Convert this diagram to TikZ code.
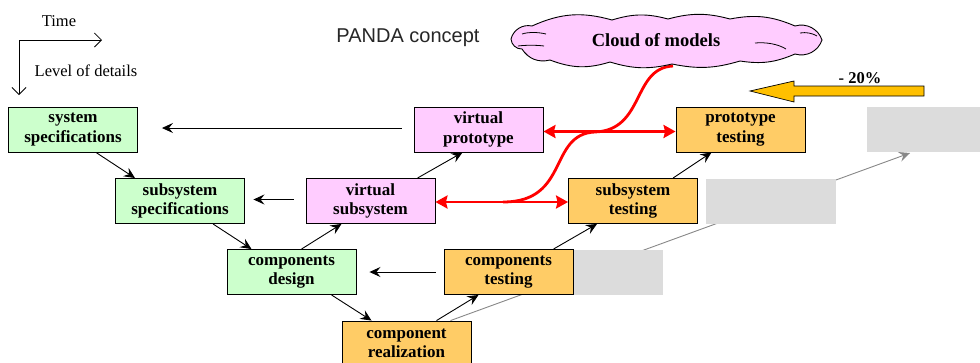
\documentclass[tikz,border=0pt]{standalone}
\usepackage{fontspec}
\setmainfont{Liberation Serif}
\newfontfamily\arialfont{Liberation Sans}
\usetikzlibrary{arrows.meta,calc}
\definecolor{boxgreen}{HTML}{CCFFCC}
\definecolor{boxpink}{HTML}{FFCCFF}
\definecolor{boxorange}{HTML}{FFCC66}
\definecolor{boxgrey}{HTML}{DCDCDC}
\definecolor{arroworange}{HTML}{FFC000}
\definecolor{linegrey}{HTML}{888888}
\tikzset{
  vbox/.style={draw=black, line width=0.9pt, minimum width=129pt, minimum height=45pt,
    align=center, inner sep=0pt, font=\fontsize{17}{19.5}\selectfont\bfseries},
  greenbox/.style={vbox, fill=boxgreen},
  pinkbox/.style={vbox, fill=boxpink},
  orangebox/.style={vbox, fill=boxorange},
  greybox/.style={fill=boxgrey, draw=none, minimum height=45pt, inner sep=0pt},
  flow/.style={line width=0.9pt, -{Stealth[length=11pt,width=10pt,inset=4pt]}},
  redarrow/.style={red, line width=2.8pt, {Stealth[length=12pt,width=13pt,inset=1.5pt]}-{Stealth[length=12pt,width=13pt,inset=1.5pt]}},
  redline/.style={red, line width=2.8pt},
  axis/.style={line width=0.8pt, -{Straight Barb[length=7pt,width=14pt]}},
  lbl/.style={font=\fontsize{16.5}{19}\selectfont, inner sep=0pt},
  puff/.style={bend left=#1},
}
\begin{document}
\begin{tikzpicture}[x=1pt,y=-1pt]
\useasboundingbox (0,0) rectangle (980,362);

% gray background line
\coordinate (gend) at (910,153);

% boxes
\node[greenbox] (sysspec) at (73,129.5) {system\\specifications};
\node[greenbox] (subspec) at (180,201) {subsystem\\specifications};
\node[greenbox] (compdesign) at (291.5,272) {components\\design};
\node[orangebox] (comprel) at (406.5,343.5) {component\\realization};
\node[orangebox] (comptest) at (508.5,272) {components\\testing};
\node[orangebox] (subtest) at (633,201) {subsystem\\testing};
\node[orangebox] (prototest) at (740.5,129.5) {prototype\\testing};
\node[pinkbox] (virtsub) at (370.5,201) {virtual\\subsystem};
\node[pinkbox] (virtproto) at (478.5,129.5) {virtual\\prototype};

\draw[linegrey, line width=0.9pt, -{Stealth[length=11pt,width=10pt,inset=4pt]}] ([xshift=44pt]comprel.north) -- (gend);

\node[greybox, minimum width=90pt] (g1) at (618,272.5) {};
\node[greybox, minimum width=130pt] (g2) at (771,201.5) {};
\node[greybox, minimum width=130pt] (g3) at (932,129.5) {};

% redraw boxes over grey line start
\node[orangebox] at (comprel) {component\\realization};
\node[orangebox] at (comptest) {components\\testing};

% V flow arrows
\draw[flow] ([xshift=23pt]sysspec.south) -- ([xshift=-45pt]subspec.north);
\draw[flow] ([xshift=33pt]subspec.south) -- ([xshift=-40pt]compdesign.north);
\draw[flow] ([xshift=40pt]compdesign.south) -- ([xshift=-35pt]comprel.north);
\draw[flow] ([xshift=30pt]comprel.north) -- ([xshift=-30pt]comptest.south);
\draw[flow] ([xshift=45pt]comptest.north) -- ([xshift=-36pt]subtest.south);
\draw[flow] ([xshift=40pt]subtest.north) -- ([xshift=-29pt]prototest.south);
\draw[flow] ([xshift=10pt]compdesign.north) -- ([xshift=-29pt]virtsub.south);
\draw[flow] ([xshift=47pt]virtsub.north) -- ([xshift=-16pt]virtproto.south);

% horizontal back arrows
\draw[flow, shorten <=12pt, shorten >=24pt] ([yshift=1.5pt]virtproto.west) -- ([yshift=1.5pt]sysspec.east);
\draw[flow, shorten <=12pt, shorten >=8.5pt] ([yshift=1.5pt]virtsub.west) -- ([yshift=1.5pt]subspec.east);
\draw[flow, shorten <=8pt, shorten >=13pt] (comptest.west) -- (compdesign.east);

% red connections
\draw[redarrow] ([yshift=-2pt]virtproto.east) -- ([yshift=-2pt]prototest.west);
\draw[redarrow] ([yshift=-1pt]virtsub.east) -- ([yshift=-1pt]subtest.west);
\coordinate (cloudbot) at (673,66);
\coordinate (rjoin1) at (595,132);
\coordinate (rjoin2) at (503,202);
\draw[redline] (cloudbot) .. controls (632,68) and (645,130) .. (rjoin1)
  .. controls (548,134) and (570,202) .. (rjoin2);

% cloud outline
\draw[fill=boxpink, draw=black, line width=0.9pt]
  (511,39) to[puff=44] (532,26) to[puff=20] (612,20) to[puff=16] (668,19)
  to[puff=15] (730,19) to[puff=17] (795,26) to[puff=44] (822,40)
  to[puff=44] (795,54) to[puff=16] (740,61) to[puff=14] (672,64)
  to[puff=15] (610,62) to[puff=19] (550,60) to[puff=36] (522,49) to[puff=44] cycle;
% inner curls
\draw[line width=0.8pt] (522,34) .. controls (528,32) and (538,32) .. (546,34);
\draw[line width=0.8pt] (518,46) .. controls (526,45) and (536,45) .. (544,46);
\draw[line width=0.8pt] (800,33) .. controls (806,32) and (812,33) .. (817,36);
\draw[line width=0.8pt] (755,43) .. controls (766,42) and (778,44) .. (786,49);
\node[font=\fontsize{18.5}{20}\selectfont\bfseries, inner sep=0pt] (cloud) at (656,40) {Cloud of models};

% -20% arrow
\draw[fill=arroworange, draw=black, line width=0.7pt]
  (750,91) -- (794,81) -- (794,86) -- (924,86) -- (924,96) -- (794,96) -- (794,102) -- cycle;
\node[font=\fontsize{16.5}{19}\selectfont\bfseries, inner sep=0pt] (pct) at (860,78) {- 20\%};

% title
\node[font=\arialfont\fontsize{20}{23}\selectfont, text=black!85, inner sep=0pt] (title) at (408,38) {PANDA concept};

% axes
\coordinate (origin) at (19,40);
\coordinate (tend) at (102,40);
\coordinate (lend) at (19,95);
\draw[axis] (origin) -- (tend);
\draw[axis] (origin) -- (lend);
\node[lbl] (timelbl) at (59,21) {Time};
\node[lbl] (lodlbl) at (86,71) {Level of details};
\end{tikzpicture}
\end{document}
